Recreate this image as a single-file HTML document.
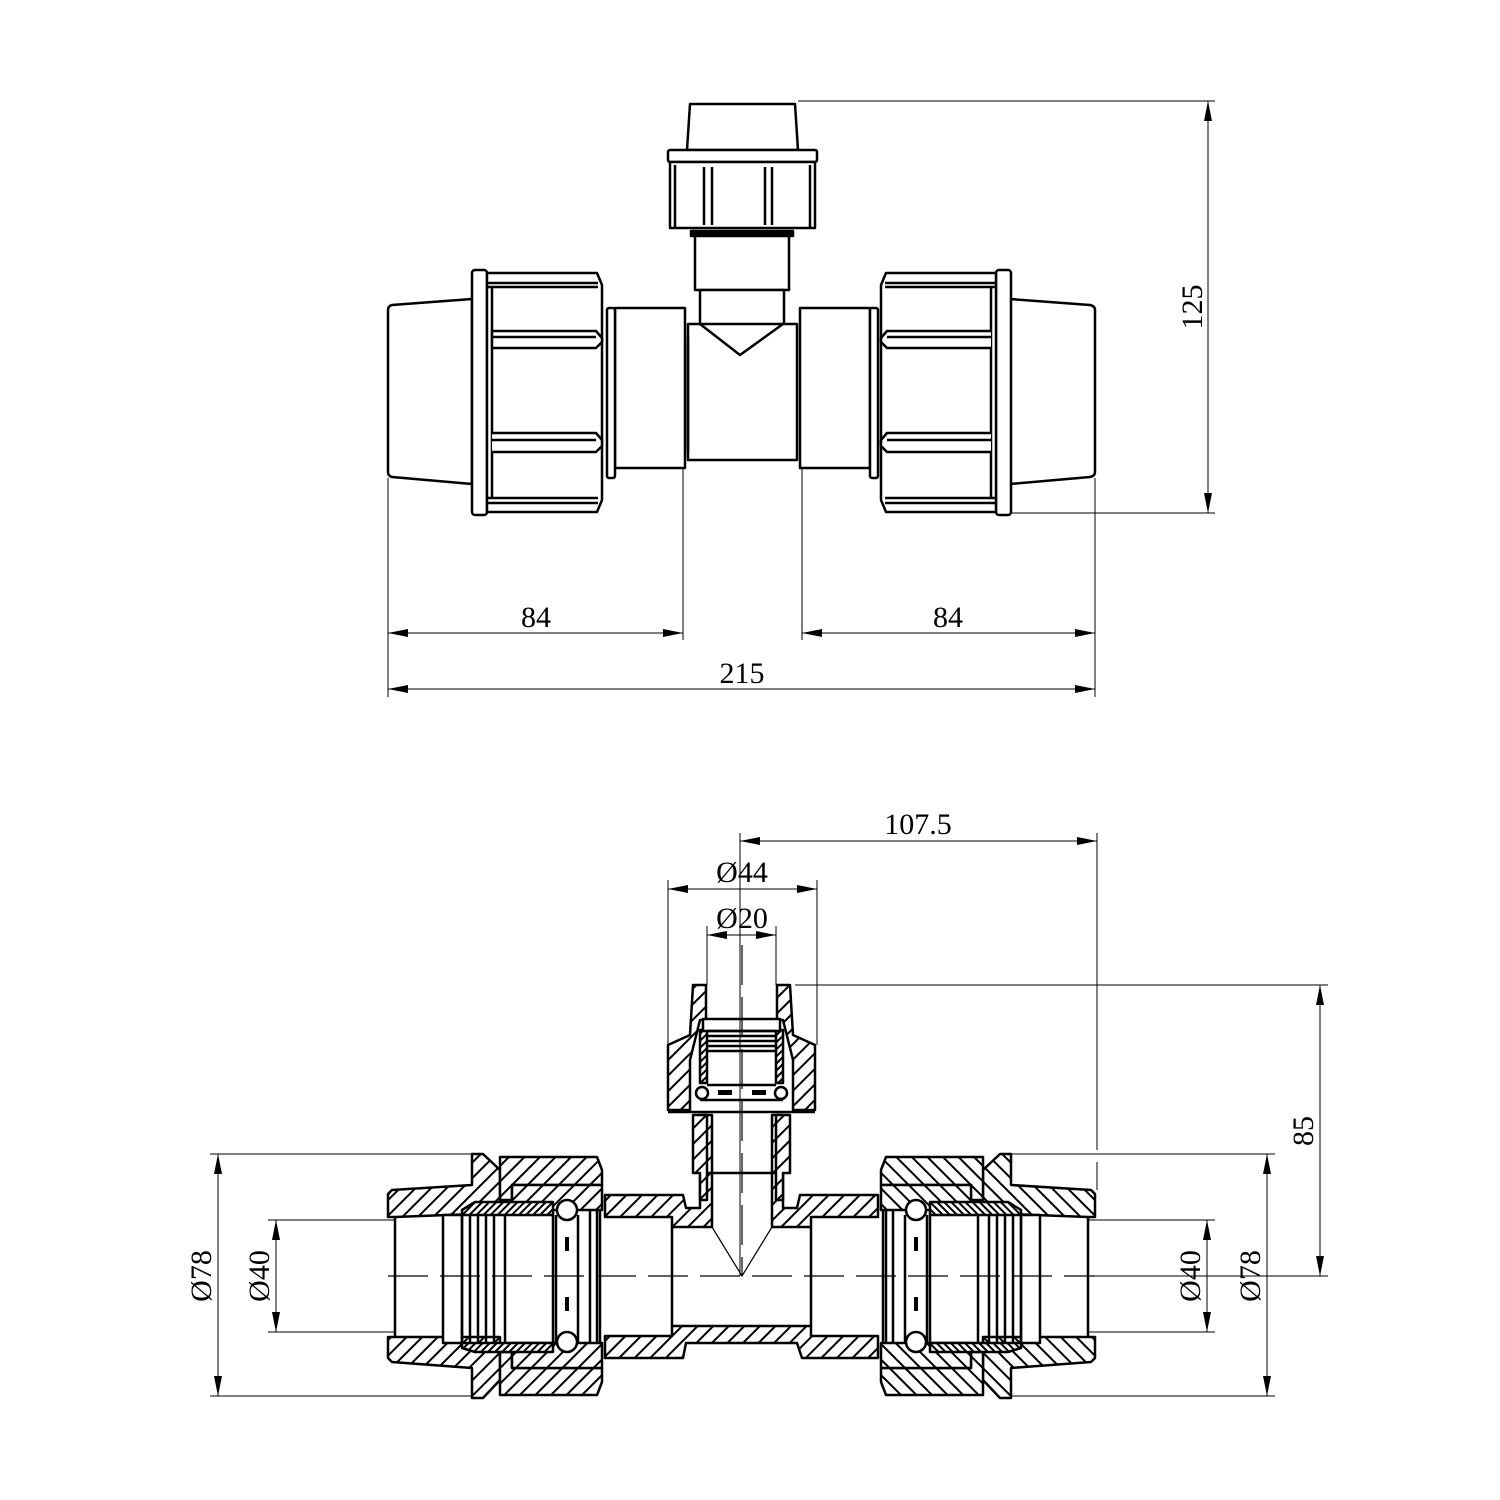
<!DOCTYPE html>
<html><head><meta charset="utf-8"><style>
html,body{margin:0;padding:0;background:#fff;}
svg{display:block;}
text{font-family:"Liberation Serif",serif;font-size:30px;fill:#000;}
</style></head><body>
<svg width="1500" height="1500" viewBox="0 0 1500 1500" xmlns="http://www.w3.org/2000/svg">
<defs>
<pattern id="h" patternUnits="userSpaceOnUse" width="11" height="11" patternTransform="rotate(45)">
<rect width="11" height="11" fill="#fff"/><line x1="1" y1="0" x2="1" y2="11" stroke="#000" stroke-width="2"/>
</pattern>
<pattern id="hd" patternUnits="userSpaceOnUse" width="5" height="5" patternTransform="rotate(45)">
<rect width="5" height="5" fill="#fff"/><line x1="1" y1="0" x2="1" y2="5" stroke="#000" stroke-width="2"/>
</pattern>
<marker id="a" viewBox="0 0 20 8" refX="20" refY="4" markerWidth="20" markerHeight="8" markerUnits="userSpaceOnUse" orient="auto-start-reverse">
<path d="M0,0 L20,4 L0,8 Z" fill="#000"/></marker>
</defs>

<!-- ============ TOP VIEW ============ -->
<g fill="#fff" stroke="#000" stroke-width="2.5" stroke-linejoin="round">
<path d="M690,104 L795,104 L798,150 L687,150 Z"/>
<rect x="668" y="150" width="149" height="12" rx="2"/>
<rect x="670" y="162" width="145" height="66"/>
<line x1="675" y1="165" x2="675" y2="228"/>
<line x1="810" y1="165" x2="810" y2="228"/>
<path d="M704,167 V225 M712,167 V225 M765,167 V225 M772,167 V225"/>
<rect x="691" y="231" width="102" height="5" fill="#000"/>
<rect x="695" y="236" width="94" height="54"/>
<rect x="700" y="290" width="84" height="34"/>
<path d="M688,324 L700,324 L740,355 L783,324 L797,324 L797,460 L688,460 Z"/>
<line x1="688" y1="337" x2="688" y2="453"/>
<rect x="615" y="308" width="70" height="160"/>
<rect x="607" y="308" width="8" height="170" rx="2"/>
<rect x="800" y="308" width="70" height="160"/>
<rect x="870" y="308" width="8" height="170" rx="2"/>
<path d="M472,299 L392,305 Q388,306 388,310 L388,472 Q388,476 392,477 L472,484 Z"/>
<rect x="472" y="270" width="15" height="245" rx="3"/>
<path d="M487,273 L597,273 L602,285 L602,500 L597,512 L487,512 Z"/>
<path d="M487,287 L598,287 M487,283 L598,283 M492,287 V498"/>
<path d="M492,331 L596,331 L602,338 L602,342 L596,348 L492,348 M492,331 V348 M492,337 H596"/>
<path d="M492,433 L596,433 L602,440 L602,446 L596,452 L492,452 M492,440 H596"/>
<path d="M487,498 L598,498 M487,503 L598,503"/>
<path d="M1010,299 L1090,305 Q1095,306 1095,310 L1095,472 Q1095,476 1090,477 L1010,484 Z"/>
<rect x="996" y="270" width="15" height="245" rx="3"/>
<path d="M996,273 L886,273 L881,285 L881,500 L886,512 L996,512 Z"/>
<path d="M996,287 L885,287 M996,283 L885,283 M991,287 V498"/>
<path d="M991,331 L887,331 L881,338 L881,342 L887,348 L991,348 M991,337 H887"/>
<path d="M991,433 L887,433 L881,440 L881,446 L887,452 L991,452 M991,440 H887"/>
<path d="M996,498 L885,498 M996,503 L885,503"/>
</g>

<g stroke="#000" stroke-width="1" fill="none">
<line x1="798" y1="101" x2="1215" y2="101"/>
<line x1="1011" y1="513" x2="1215" y2="513"/>
<line x1="1208" y1="101" x2="1208" y2="513" marker-start="url(#a)" marker-end="url(#a)"/>
<line x1="388" y1="478" x2="388" y2="697"/>
<line x1="683" y1="468" x2="683" y2="640"/>
<line x1="802" y1="468" x2="802" y2="640"/>
<line x1="1095" y1="478" x2="1095" y2="697"/>
<line x1="388" y1="633" x2="683" y2="633" marker-start="url(#a)" marker-end="url(#a)"/>
<line x1="802" y1="633" x2="1095" y2="633" marker-start="url(#a)" marker-end="url(#a)"/>
<line x1="388" y1="689" x2="1095" y2="689" marker-start="url(#a)" marker-end="url(#a)"/>
</g>
<text x="536" y="627" text-anchor="middle">84</text>
<text x="948" y="627" text-anchor="middle">84</text>
<text x="742" y="683" text-anchor="middle">215</text>
<text transform="translate(1202,307) rotate(-90)" text-anchor="middle">125</text>

<!-- ============ BOTTOM SECTION ============ -->
<g stroke="#000" stroke-width="2.5" stroke-linejoin="round">
<path fill="url(#h)" d="M605,1195 L683,1195 L686,1208 L700,1208 L700,1115 L712,1115 L712,1227 L672,1227 L672,1217 L605,1217 Z"/>
<path fill="url(#h)" d="M878,1195 L800,1195 L797,1208 L783,1208 L783,1115 L772,1115 L772,1227 L811,1227 L811,1217 L878,1217 Z"/>
<path fill="url(#h)" d="M605,1336 L672,1336 L672,1326 L811,1326 L811,1336 L878,1336 L878,1358 L802,1358 L797,1343 L686,1343 L683,1358 L605,1358 Z"/>
<path fill="url(#h)" d="M693,1115 L707,1115 L707,1200 L700,1200 L700,1173 L693,1173 Z"/>
<path fill="url(#h)" d="M790,1115 L776,1115 L776,1200 L783,1200 L783,1173 L790,1173 Z"/>
</g>
<g stroke="#000" stroke-width="2.5" fill="none">
<line x1="707" y1="1173" x2="776" y2="1173"/>
<line x1="672" y1="1227" x2="672" y2="1326"/>
<line x1="811" y1="1227" x2="811" y2="1326"/>
<line x1="600" y1="1195" x2="600" y2="1358"/>
<line x1="883" y1="1195" x2="883" y2="1358"/>
</g>
<path d="M712,1227 L742,1276 L772,1227" stroke="#000" stroke-width="1.2" fill="none"/>

<g stroke="#000" stroke-width="2.5" stroke-linejoin="round">
<path fill="url(#h)" d="M693,985 L706,985 L706,1020 L700,1020 L690,1060 L690,1110 L668,1110 L668,1045 L690,1035 Z"/>
<path fill="url(#h)" d="M790,985 L777,985 L777,1020 L783,1020 L793,1060 L793,1110 L815,1110 L815,1045 L793,1035 Z"/>
<path fill="url(#hd)" d="M700,1030 L707,1030 L707,1083 L700,1083 Z"/>
<path fill="url(#hd)" d="M783,1030 L776,1030 L776,1083 L783,1083 Z"/>
<rect x="703" y="1019" width="77" height="12" fill="#fff"/>
<path fill="#fff" d="M707,1031 H776 M707,1036 H776 M707,1041 H776 M707,1046 H776 M707,1051 H776"/>
<path fill="none" d="M707,1085 H776 M700,1100 H783 M668,1112 H815"/>
</g>
<circle cx="702" cy="1093" r="6" fill="#fff" stroke="#000" stroke-width="2.5"/>
<circle cx="781" cy="1093" r="6" fill="#fff" stroke="#000" stroke-width="2.5"/>
<rect x="718" y="1090" width="14" height="5" fill="#000"/>
<rect x="752" y="1090" width="14" height="5" fill="#000"/>

<g id="L" stroke="#000" stroke-width="2.5" stroke-linejoin="round">
<path fill="url(#h)" d="M392,1190 L472,1185 L472,1154 L483,1154 L500,1170 L500,1213 L395,1217 L395,1217 L388,1217 L388,1194 Z"/>
<path fill="url(#h)" d="M388,1337 L395,1337 L500,1337 L500,1380 L483,1398 L472,1398 L472,1368 L392,1362 L388,1358 Z"/>
<path fill="url(#h)" d="M500,1157 L597,1157 L602,1170 L602,1185 L512,1185 L512,1200 L500,1200 Z"/>
<path fill="url(#h)" d="M500,1395 L597,1395 L602,1382 L602,1368 L512,1368 L512,1352 L500,1352 Z"/>
<path fill="url(#h)" d="M512,1185 L602,1185 L602,1210 L512,1210 Z"/>
<path fill="url(#h)" d="M512,1343 L602,1343 L602,1368 L512,1368 Z"/>
<path fill="url(#hd)" d="M462,1210 L475,1202 L553,1202 L553,1215 L462,1215 Z"/>
<path fill="url(#hd)" d="M462,1343 L553,1343 L553,1352 L475,1352 L462,1348 Z"/>
<path fill="#fff" d="M443,1215 L462,1215 L462,1343 L443,1343 Z"/>
<path fill="none" d="M395,1217 V1337 M462,1215 V1343 M470,1215 V1343 M478,1215 V1343 M486,1215 V1343 M494,1215 V1343 M505,1215 V1343 M553,1215 V1343"/>
<path fill="none" d="M556,1215 V1343 M578,1215 V1343 M590,1210 V1343 M597,1210 V1343"/>
</g>
<g stroke="#000" stroke-width="2.5">
<circle cx="567" cy="1210" r="10" fill="#fff"/>
<circle cx="567" cy="1342" r="10" fill="#fff"/>
<rect x="565" y="1237" width="4" height="14" fill="#000" stroke="none"/>
<rect x="565" y="1297" width="4" height="14" fill="#000" stroke="none"/>
</g>
<g transform="translate(1483,0) scale(-1,1)" stroke="#000" stroke-width="2.5" stroke-linejoin="round">
<path fill="url(#h)" d="M392,1190 L472,1185 L472,1154 L483,1154 L500,1170 L500,1213 L395,1217 L395,1217 L388,1217 L388,1194 Z"/>
<path fill="url(#h)" d="M388,1337 L395,1337 L500,1337 L500,1380 L483,1398 L472,1398 L472,1368 L392,1362 L388,1358 Z"/>
<path fill="url(#h)" d="M500,1157 L597,1157 L602,1170 L602,1185 L512,1185 L512,1200 L500,1200 Z"/>
<path fill="url(#h)" d="M500,1395 L597,1395 L602,1382 L602,1368 L512,1368 L512,1352 L500,1352 Z"/>
<path fill="url(#h)" d="M512,1185 L602,1185 L602,1210 L512,1210 Z"/>
<path fill="url(#h)" d="M512,1343 L602,1343 L602,1368 L512,1368 Z"/>
<path fill="url(#hd)" d="M462,1210 L475,1202 L553,1202 L553,1215 L462,1215 Z"/>
<path fill="url(#hd)" d="M462,1343 L553,1343 L553,1352 L475,1352 L462,1348 Z"/>
<path fill="#fff" d="M443,1215 L462,1215 L462,1343 L443,1343 Z"/>
<path fill="none" d="M395,1217 V1337 M462,1215 V1343 M470,1215 V1343 M478,1215 V1343 M486,1215 V1343 M494,1215 V1343 M505,1215 V1343 M553,1215 V1343"/>
<path fill="none" d="M556,1215 V1343 M578,1215 V1343 M590,1210 V1343 M597,1210 V1343"/>
<circle cx="567" cy="1210" r="10" fill="#fff"/>
<circle cx="567" cy="1342" r="10" fill="#fff"/>
<rect x="565" y="1237" width="4" height="14" fill="#000" stroke="none"/>
<rect x="565" y="1297" width="4" height="14" fill="#000" stroke="none"/>
</g>

<g stroke="#000" stroke-width="1.2" fill="none">
<line x1="388" y1="1276" x2="1095" y2="1276" stroke-dasharray="40,12"/>
<line x1="742" y1="945" x2="742" y2="1276" stroke-dasharray="40,12"/>
</g>

<g stroke="#000" stroke-width="1" fill="none">
<line x1="740" y1="833" x2="740" y2="1276"/>
<line x1="1097" y1="833" x2="1097" y2="1150"/>
<line x1="1097" y1="1162" x2="1097" y2="1190"/>
<line x1="740" y1="841" x2="1097" y2="841" marker-start="url(#a)" marker-end="url(#a)"/>
<line x1="668" y1="880" x2="668" y2="1045"/>
<line x1="817" y1="880" x2="817" y2="1045"/>
<line x1="668" y1="889" x2="817" y2="889" marker-start="url(#a)" marker-end="url(#a)"/>
<line x1="707" y1="926" x2="707" y2="985"/>
<line x1="776" y1="926" x2="776" y2="985"/>
<line x1="707" y1="935" x2="776" y2="935" marker-start="url(#a)" marker-end="url(#a)"/>
<line x1="795" y1="985" x2="1328" y2="985"/>
<line x1="1095" y1="1276" x2="1328" y2="1276"/>
<line x1="1320" y1="985" x2="1320" y2="1276" marker-start="url(#a)" marker-end="url(#a)"/>
<line x1="210" y1="1154" x2="472" y2="1154"/>
<line x1="210" y1="1396" x2="472" y2="1396"/>
<line x1="218" y1="1154" x2="218" y2="1396" marker-start="url(#a)" marker-end="url(#a)"/>
<line x1="268" y1="1220" x2="395" y2="1220"/>
<line x1="268" y1="1332" x2="395" y2="1332"/>
<line x1="276" y1="1220" x2="276" y2="1332" marker-start="url(#a)" marker-end="url(#a)"/>
<line x1="1011" y1="1154" x2="1275" y2="1154"/>
<line x1="1011" y1="1396" x2="1275" y2="1396"/>
<line x1="1267" y1="1154" x2="1267" y2="1396" marker-start="url(#a)" marker-end="url(#a)"/>
<line x1="1088" y1="1220" x2="1215" y2="1220"/>
<line x1="1088" y1="1332" x2="1215" y2="1332"/>
<line x1="1207" y1="1220" x2="1207" y2="1332" marker-start="url(#a)" marker-end="url(#a)"/>
</g>
<text x="918" y="834" text-anchor="middle">107.5</text>
<text x="742" y="882" text-anchor="middle">Ø44</text>
<text x="742" y="928" text-anchor="middle">Ø20</text>
<text transform="translate(1313,1131) rotate(-90)" text-anchor="middle">85</text>
<text transform="translate(211,1276) rotate(-90)" text-anchor="middle">Ø78</text>
<text transform="translate(269,1276) rotate(-90)" text-anchor="middle">Ø40</text>
<text transform="translate(1200,1276) rotate(-90)" text-anchor="middle">Ø40</text>
<text transform="translate(1260,1276) rotate(-90)" text-anchor="middle">Ø78</text>
</svg>
</body></html>
